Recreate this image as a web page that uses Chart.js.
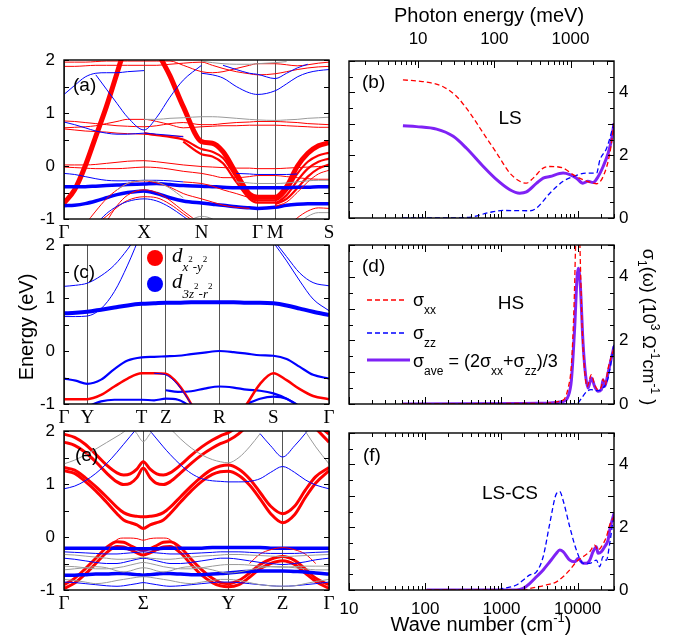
<!DOCTYPE html>
<html>
<head>
<meta charset="utf-8">
<script src="https://cdn.jsdelivr.net/npm/chart.js@4.4.0/dist/chart.umd.min.js"></script>
<style>
  body { margin: 0; background: #fff; }
  #wrap { position: relative; width: 683px; height: 643px; }
  #wrap canvas { position: absolute; left: 0; top: 0; }
</style>
</head>
<body>
<div id="wrap">
  <canvas id="pa" width="683" height="643"></canvas>
  <canvas id="pc" width="683" height="643"></canvas>
  <canvas id="pe" width="683" height="643"></canvas>
  <canvas id="pb" width="683" height="643"></canvas>
  <canvas id="pd" width="683" height="643"></canvas>
  <canvas id="pf" width="683" height="643"></canvas>
</div>
<script>
const n = null;
const _ = k => Array(k).fill(null);

// ---- (a) LS band structure, energies in eV along the k path ----
const kA = [0, 0.04, 0.08, 0.12, 0.16, 0.20, 0.24, 0.302, 0.35, 0.40, 0.45, 0.519, 0.56, 0.60, 0.65, 0.70, 0.730, 0.797, 0.84, 0.88, 0.92, 0.96, 1.0];
const symA = [0, 0.302, 0.519, 0.730, 0.797, 1];
const labA = ['Γ', 'X', 'N', 'Γ', 'M', 'S'];
const aStrongX = [
  [-0.70, -0.45, 0.00, 0.56, 1.12, 1.75, 2.40, ..._(16)],
  [..._(7), 2.90, 2.20, 1.70, 1.12, 0.46, 0.43, 0.27, -0.14, -0.53, -0.59, -0.59, -0.39, -0.01, 0.24, 0.38, 0.44],
];
const aMidX = [
  [..._(7), 0.62, 0.58, 0.55, 0.50, 0.32, 0.27, 0.15, -0.22, -0.58, -0.65, -0.65, -0.47, -0.15, 0.08, 0.20, 0.25],
  [..._(10), 0.46, 0.22, 0.18, 0.05, -0.30, -0.62, -0.69, -0.69, -0.55, -0.28, -0.05, 0.08, 0.14],
  [..._(17), -0.72, -0.62, -0.42, -0.20, -0.05, 0.03],
];
const aWeakX = [
  [1.88, 1.88, 1.89, 1.90, 1.90, 1.90, 1.90, 1.90, 1.90, 1.92, 1.94, 1.96, 1.90, 1.84, 1.78, 1.74, 1.72, 1.74, 1.78, 1.82, 1.85, 1.87, 1.88],
  [1.96, 1.96, 1.96, 1.97, 1.98, 1.98, 1.98, 1.98, 1.98, 1.98, 1.90, 1.78, 1.76, 1.78, 1.84, 1.90, 1.93, 1.93, 1.91, 1.89, 1.91, 1.94, 1.96],
  [0.85, 0.84, 0.82, 0.80, 0.78, 0.76, 0.75, 0.74, 0.76, 0.80, 0.82, 0.78, 0.78, 0.80, 0.82, 0.83, 0.84, 0.84, 0.83, 0.82, 0.80, 0.79, 0.78],
  [0.72, 0.73, 0.74, 0.76, 0.80, 0.84, 0.88, 0.88, 0.84, 0.78, 0.72, 0.74, 0.75, 0.76, 0.76, 0.77, 0.77, 0.77, 0.76, 0.75, 0.74, 0.73, 0.73],
  [0.70, 0.68, 0.66, 0.65, 0.64, 0.62, 0.61, 0.60, 0.58, 0.57, 0.56, ..._(12)],
  [0.02, 0.02, 0.02, 0.03, 0.05, 0.07, 0.09, 0.10, 0.08, 0.05, 0.02, -0.01, -0.02, -0.03, -0.04, -0.04, -0.05, -0.05, -0.04, -0.03, -0.02, -0.01, 0.00],
  [-0.02, -0.03, -0.04, -0.05, -0.05, -0.05, -0.04, -0.02, -0.03, -0.06, -0.10, -0.14, -0.18, -0.22, -0.22, -0.20, -0.18, -0.18, -0.20, -0.22, -0.24, -0.25, -0.25],
  [..._(17), -0.76, -0.68, -0.50, -0.30, -0.15, -0.08],
  [..._(4), -1.05, -0.75, -0.55, -0.45, -0.50, -0.65, -0.85, -1.10, ..._(11)],
  [..._(3), -1.10, -0.95, -0.78, -0.65, -0.58, -0.60, -0.72, -0.90, -1.15, ..._(11)],
  [..._(2), -1.10, -0.85, -0.62, -0.45, -0.33, -0.28, -0.32, -0.40, -0.52, -0.62, -0.68, -0.74, -0.78, -0.80, ..._(7)],
  [..._(10), -0.30, -0.33, -0.38, -0.45, -0.52, -0.60, -0.65, ..._(6)],
  [..._(18), -1.15, -0.98, -0.85, -0.79, -0.80],
];
const aStrongZ = [
  [-0.39, -0.39, -0.39, -0.38, -0.37, -0.36, -0.35, -0.34, -0.33, -0.35, -0.37, -0.38, -0.39, -0.40, -0.41, -0.41, -0.41, -0.41, -0.41, -0.40, -0.40, -0.39, -0.39],
  [-0.75, -0.74, -0.71, -0.66, -0.60, -0.54, -0.50, -0.47, -0.52, -0.60, -0.66, -0.70, -0.72, -0.74, -0.77, -0.79, -0.80, -0.78, -0.74, -0.72, -0.71, -0.71, -0.71],
];
const aWeakZ = [
  [-0.14, -0.16, -0.20, -0.24, -0.27, -0.28, -0.28, -0.27, -0.27, -0.28, -0.30, ..._(12)],
  [1.35, 1.52, 1.68, 1.75, 1.76, 1.76, 1.78, 1.80, ..._(15)],
  [..._(3), 1.72, 1.45, 1.18, 0.92, 0.68, 0.92, 1.30, 1.62, 1.90, ..._(11)],
  [0.83, 0.78, 0.72, 0.66, 0.62, 0.60, 0.60, 0.62, 0.60, 0.58, 0.55, ..._(12)],
  [..._(11), 1.75, 1.72, 1.66, 1.50, 1.38, 1.35, 1.42, 1.55, 1.68, 1.76, 1.80, 1.82],
  [..._(13), 1.90, 1.82, 1.75, 1.73, 1.65, 1.75, 1.85, 1.92, ..._(2)],
  [..._(3), -1.10, -0.90, -0.76, -0.67, -0.62, -0.66, -0.78, -0.95, -1.20, ..._(11)],
  [..._(14), -0.14, -0.15, -0.16, -0.16, -0.16, -0.15, ..._(3)],
];
const aOther = [
  [..._(7), 0.88, 0.88, 0.90, 0.91, 0.93, 0.93, 0.92, 0.90, 0.88, 0.87, 0.86, 0.87, 0.88, 0.90, 0.91, 0.92],
  [..._(5), -0.45, -0.33, -0.27, -0.30, -0.42, -0.60, ..._(12)],
  [..._(14), -0.30, -0.32, -0.33, -0.33, -0.32, -0.30, -0.28, -0.27, -0.27],
  [..._(19), -1.10, -0.95, -0.88, -0.88],
  [..._(10), -1.10, -0.95, -1.00, -1.15, ..._(9)],
  [..._(11), 1.98, 1.95, 1.93, 1.92, 1.92, 1.93, 1.95, 1.97, ..._(4)],
];

// ---- (c) HS band structure ----
const kC = [0, 0.044, 0.088, 0.14, 0.19, 0.24, 0.293, 0.34, 0.384, 0.43, 0.48, 0.53, 0.586, 0.64, 0.69, 0.74, 0.790, 0.84, 0.89, 0.94, 1.0];
const symC = [0, 0.088, 0.293, 0.384, 0.586, 0.790, 1];
const labC = ['Γ', 'Y', 'T', 'Z', 'R', 'S', 'Γ'];
const cStrongZ = [
  [0.71, 0.72, 0.74, 0.78, 0.82, 0.86, 0.89, 0.90, 0.91, 0.91, 0.92, 0.92, 0.92, 0.92, 0.91, 0.91, 0.90, 0.86, 0.80, 0.74, 0.68],
];
const cMidZ = [
  [-0.52, -0.56, -0.62, -0.54, -0.34, -0.18, -0.12, -0.11, -0.10, -0.09, -0.06, -0.03, 0.00, -0.02, -0.05, -0.08, -0.09, -0.15, -0.30, -0.45, -0.52],
  [..._(8), -0.74, -0.77, -0.76, -0.71, -0.67, -0.69, -0.73, -0.75, -0.80, -0.90, -1.05, ..._(2)],
  [..._(2), -1.05, -0.95, -0.92, -0.92, -0.92, -0.93, -0.90, -0.92, -1.05, ..._(3), -1.00, -0.90, -0.86, -0.90, -1.05, ..._(2)],
];
const cMidX = [
  [-0.91, -0.91, -0.91, -0.83, -0.67, -0.52, -0.42, -0.42, -0.43, -0.62, -1.00, -1.50, n, -1.35, -1.00, -0.62, -0.42, -0.55, -0.72, -0.85, -0.91],
];
const cWeakZ = [
  [0.65, 0.65, 0.66, 0.80, 1.12, 1.62, 2.25, ..._(14)],
  [1.22, 1.24, 1.28, 1.42, 1.62, 1.92, 2.30, ..._(14)],
  [..._(16), 2.10, 1.78, 1.47, 1.29, 1.23],
  [..._(16), 2.05, 1.70, 1.32, 0.98, 0.76],
  [..._(7), -0.42, -0.45, -0.64, -1.00, ..._(10)],
];

// ---- (e) LS-CS band structure ----
const kE = [0, 0.04, 0.08, 0.12, 0.16, 0.20, 0.225, 0.25, 0.275, 0.299, 0.325, 0.35, 0.375, 0.40, 0.44, 0.48, 0.52, 0.56, 0.59, 0.620, 0.66, 0.70, 0.74, 0.78, 0.825, 0.87, 0.91, 0.95, 1.0];
const symE = [0, 0.299, 0.620, 0.825, 1];
const labE = ['Γ', 'Σ', 'Y', 'Z', 'Γ'];
const eStrongX = [
  [1.94, 1.88, 1.75, 1.56, 1.36, 1.21, 1.17, 1.19, 1.28, 1.42, 1.28, 1.19, 1.17, 1.21, 1.36, 1.54, 1.70, 1.83, 1.91, 1.97, 2.10, 2.30, ..._(5), 2.15, 1.94],
  [1.79, 1.73, 1.60, 1.42, 1.21, 1.04, 0.99, 1.01, 1.12, 1.30, 1.12, 1.01, 0.99, 1.04, 1.21, 1.39, 1.55, 1.68, 1.76, 1.82, 1.95, 2.15, ..._(5), 2.05, 1.79],
  [1.31, 1.26, 1.12, 0.95, 0.76, 0.56, 0.46, 0.41, 0.39, 0.38, 0.39, 0.41, 0.46, 0.56, 0.76, 0.96, 1.14, 1.28, 1.34, 1.36, 1.28, 1.10, 0.84, 0.58, 0.44, 0.58, 0.88, 1.14, 1.31],
  [1.25, 1.20, 1.05, 0.87, 0.66, 0.44, 0.32, 0.27, 0.23, 0.16, 0.23, 0.27, 0.32, 0.44, 0.66, 0.87, 1.05, 1.18, 1.23, 1.24, 1.16, 0.98, 0.72, 0.44, 0.27, 0.42, 0.74, 1.02, 1.25],
  [-0.90, -0.78, -0.60, -0.40, -0.20, -0.09, -0.10, -0.16, -0.22, -0.25, -0.22, -0.16, -0.10, -0.09, -0.20, -0.42, -0.62, -0.78, -0.86, -0.88, -0.82, -0.68, -0.52, -0.42, -0.37, -0.44, -0.60, -0.78, -0.90],
  [-0.97, -0.87, -0.70, -0.50, -0.30, -0.18, -0.19, -0.24, -0.30, -0.34, -0.30, -0.24, -0.19, -0.18, -0.30, -0.52, -0.72, -0.86, -0.92, -0.94, -0.90, -0.76, -0.60, -0.50, -0.45, -0.52, -0.68, -0.84, -0.97],
];
const eWeakX = [
  [..._(4), -0.30, -0.05, -0.02, -0.02, -0.03, -0.06, -0.03, -0.02, -0.02, -0.05, -0.30, ..._(14)],
  [..._(21), -0.50, -0.32, -0.24, -0.20, -0.24, -0.32, -0.50, ..._(1)],
];
const eStrongZ = [
  [-0.21, -0.21, -0.21, -0.21, -0.21, -0.21, -0.21, -0.22, -0.22, -0.22, -0.22, -0.22, -0.21, -0.21, -0.21, -0.21, -0.21, -0.20, -0.20, -0.20, -0.20, -0.20, -0.20, -0.21, -0.21, -0.21, -0.21, -0.21, -0.21],
  [-0.72, -0.72, -0.71, -0.70, -0.70, -0.69, -0.69, -0.70, -0.71, -0.72, -0.71, -0.70, -0.69, -0.69, -0.70, -0.71, -0.71, -0.70, -0.69, -0.68, -0.66, -0.65, -0.64, -0.64, -0.64, -0.65, -0.66, -0.68, -0.70],
];
const eWeakZ = [
  [-0.28, -0.29, -0.30, -0.31, -0.32, -0.32, -0.31, -0.30, -0.29, -0.28, -0.29, -0.30, -0.31, -0.32, -0.32, -0.31, -0.30, -0.29, -0.28, -0.28, -0.28, -0.29, -0.30, -0.31, -0.31, -0.31, -0.30, -0.29, -0.28],
  [-0.40, -0.42, -0.45, -0.48, -0.50, -0.50, -0.48, -0.45, -0.42, -0.40, -0.42, -0.45, -0.48, -0.50, -0.50, -0.48, -0.45, -0.42, -0.40, -0.40, -0.42, -0.45, -0.48, -0.50, -0.52, -0.50, -0.47, -0.43, -0.40],
  [-0.85, -0.86, -0.88, -0.90, -0.92, -0.93, -0.92, -0.90, -0.88, -0.86, -0.88, -0.90, -0.92, -0.93, -0.92, -0.90, -0.88, -0.86, -0.85, -0.85, -0.86, -0.88, -0.90, -0.92, -0.93, -0.92, -0.90, -0.88, -0.85],
  [0.91, 0.96, 1.06, 1.20, 1.38, 1.60, 1.75, 1.90, 2.05, ..._(20)],
  [..._(10), 2.00, 1.85, 1.70, 1.56, 1.36, 1.20, 1.10, 1.06, 1.05, 1.04, 1.04, 1.05, 1.10, 1.22, 1.33, 1.22, 1.08, 0.98, 0.91],
  [..._(22), 1.95, 1.72, 1.51, 1.72, 1.95, 2.20, ..._(1)],
];
const eOther = [
  [1.38, 1.45, 1.55, 1.66, 1.78, 1.90, 1.98, 2.10, ..._(21)],
  [..._(7), 2.10, 1.95, 1.80, 1.95, 2.10, ..._(17)],
  [..._(13), 2.05, 1.85, 1.68, 1.55, 1.46, 1.42, 1.40, 1.50, 1.70, 1.95, ..._(6)],
  [..._(26), 2.00, 1.70, 1.38],
  [-0.33, -0.34, -0.36, -0.38, -0.40, -0.42, -0.42, -0.41, -0.40, -0.38, -0.40, -0.41, -0.42, -0.42, -0.40, -0.38, -0.36, -0.35, -0.34, -0.33, -0.33, -0.34, -0.35, -0.36, -0.37, -0.36, -0.35, -0.34, -0.33],
  [-0.55, -0.56, -0.58, -0.60, -0.60, -0.58, -0.56, -0.53, -0.50, -0.48, -0.50, -0.53, -0.56, -0.58, -0.60, -0.60, -0.58, -0.55, -0.53, -0.52, -0.52, -0.53, -0.55, -0.56, -0.57, -0.56, -0.55, -0.55, -0.55],
  [-0.80, -0.82, -0.85, -0.88, -0.86, -0.82, -0.80, -0.78, -0.76, -0.75, -0.76, -0.78, -0.80, -0.82, -0.86, -0.88, -0.85, -0.82, -0.80, -0.80, -0.82, -0.86, -0.90, -0.92, -0.93, -0.92, -0.88, -0.84, -0.80],
  [-0.62, -0.60, -0.58, -0.56, -0.58, -0.64, -0.66, -0.64, -0.60, -0.58, -0.60, -0.64, -0.66, -0.64, -0.58, -0.56, -0.58, -0.62, -0.66, -0.68, -0.66, -0.62, -0.58, -0.56, -0.56, -0.58, -0.60, -0.62, -0.62],
];

// ---- optical conductivity, wave number (cm-1) vs sigma1 (10^3 / ohm cm) ----
const wnTicks = [10, 100, 1000, 10000];
const meVTicks = [10, 100, 1000];
const MEV = 8.0655; // cm-1 per meV

const bWnXX = [51, 80, 115, 172, 258, 387, 578, 865, 1290, 1740, 2130, 2610, 3530, 4320, 6450, 8700, 11700, 15900, 17700, 21600, 26500, 30000];
const bXX = [4.40, 4.36, 4.31, 4.18, 3.87, 3.34, 2.70, 2.07, 1.43, 1.17, 1.11, 1.27, 1.59, 1.64, 1.59, 1.38, 1.22, 1.11, 1.09, 1.32, 2.07, 3.02];
const bWnZZ = [51, 200, 400, 705, 1050, 2360, 2900, 4320, 6450, 8700, 13000, 17700, 19600, 24000, 30000];
const bZZ = [0, 0, 0.03, 0.18, 0.24, 0.23, 0.32, 0.79, 1.17, 1.32, 1.43, 1.43, 1.85, 2.22, 3.02];
const bWnAve = [51, 77, 141, 233, 348, 578, 865, 1290, 1740, 2130, 2900, 3530, 4320, 6450, 7900, 9650, 11700, 13640, 15900, 18600, 21600, 25200, 27800, 30000];
const bAve = [2.94, 2.91, 2.83, 2.60, 2.22, 1.64, 1.22, 0.90, 0.79, 0.83, 1.11, 1.27, 1.32, 1.43, 1.38, 1.27, 1.11, 1.17, 1.13, 1.32, 1.64, 2.07, 2.49, 3.02];

const dWnXX = [50, 3000, 6440, 7500, 8290, 9000, 9500, 9830, 10240, 10600, 10870, 11500, 12300, 13300, 15140, 16750, 18520, 20480, 21540, 23000, 25000, 30000];
const dXX = [0, 0.02, 0.12, 0.50, 1.25, 3.2, 5.4, 6.3, 6.3, 5.4, 4.4, 2.3, 1.1, 0.55, 0.92, 0.60, 0.45, 0.55, 0.78, 0.60, 1.10, 1.76];
const dWnZZ = [50, 9000, 9830, 11000, 13000, 15000, 18000, 21000, 25000, 30000];
const dZZ = [0, 0, 0.01, 0.15, 0.38, 0.45, 0.42, 0.48, 0.80, 1.90];
const dWnAve = [50, 3000, 6440, 7500, 8290, 9160, 9830, 10240, 10870, 11780, 12770, 13700, 15140, 16750, 18520, 20480, 21540, 22650, 25050, 27700, 30000];
const dAve = [0, 0.02, 0.08, 0.24, 0.76, 2.44, 4.00, 4.27, 3.69, 1.91, 0.87, 0.50, 0.82, 0.55, 0.40, 0.45, 0.76, 0.55, 0.97, 1.44, 1.81];

const fWnXX = [104, 2000, 2360, 3900, 5270, 6440, 7880, 9640, 11790, 14410, 16750, 18520, 20480, 23820, 26350, 30000];
const fXX = [0, 0, 0.05, 0.16, 0.26, 0.42, 0.64, 0.90, 1.06, 1.22, 1.43, 1.27, 1.38, 1.69, 2.07, 2.33];
const fWnZZ = [104, 861, 1050, 1575, 2360, 2880, 3530, 4310, 5270, 5820, 6440, 7880, 9640, 11790, 14410, 17610, 19480, 21540, 23820, 26350, 30000];
const fZZ = [0, 0, 0.05, 0.16, 0.48, 0.58, 1.06, 2.12, 3.07, 3.13, 2.86, 2.01, 1.27, 0.85, 0.85, 0.95, 0.74, 1.06, 0.95, 1.48, 2.44];
const fWnAve = [104, 1575, 1930, 2360, 2880, 3530, 4310, 5270, 5820, 6440, 7880, 9170, 10140, 11790, 13020, 14410, 15930, 17610, 18520, 20480, 22650, 25050, 26350, 30000];
const fAve = [0, 0, 0.05, 0.21, 0.42, 0.64, 0.90, 1.17, 1.27, 1.22, 0.95, 0.90, 1.00, 0.85, 0.85, 0.95, 1.22, 1.38, 1.17, 1.22, 1.38, 1.59, 1.91, 2.44];

// ---- drawing ----
const W = 683, H = 643;
const SANS = "'Liberation Sans', Arial, sans-serif";
const SERIF = "'Liberation Serif', 'Times New Roman', serif";
const RED = '#ff0000', BLUE = '#0000ff', GRAY = '#9a9a9a', PURPLE = '#7f22f5';
Chart.defaults.font.family = SANS;
Chart.defaults.color = '#000';

function drawRich(ctx, parts, fam, align, y0) {
  const segs = parts.map(([t, size, dy = 0, it = false]) => {
    const font = `${it ? 'italic ' : ''}${size}px ${fam}`;
    ctx.font = font;
    return { t, font, dy, w: ctx.measureText(t).width };
  });
  const total = segs.reduce((s, p) => s + p.w, 0);
  let x = align === 'center' ? -total / 2 : align === 'right' ? -total : 0;
  ctx.textAlign = 'left';
  ctx.textBaseline = 'alphabetic';
  segs.forEach(p => {
    ctx.font = p.font;
    ctx.fillText(p.t, x, y0 + p.dy);
    x += p.w;
  });
}

function logTicks(ctx, s, y, dir) {
  const lo = Math.floor(Math.log10(s.min)), hi = Math.ceil(Math.log10(s.max));
  for (let d = lo; d <= hi; d++) {
    for (let m = 1; m < 10; m++) {
      const v = m * Math.pow(10, d);
      if (v < s.min * 0.999 || v > s.max * 1.001) continue;
      const p = Math.round(s.getPixelForValue(v)) + 0.5;
      ctx.moveTo(p, y);
      ctx.lineTo(p, y + dir * (m === 1 ? 7 : 4));
    }
  }
}

const framePlugin = spec => ({
  id: 'frame',
  afterDatasetsDraw(chart) {
    const { ctx, chartArea: a, scales } = chart;
    ctx.save();
    ctx.strokeStyle = '#000';
    ctx.lineWidth = 1;
    ctx.beginPath();
    const ys = scales.y;
    for (let v = ys.min; v <= ys.max + 1e-6; v += 0.5) {
      const p = Math.round(ys.getPixelForValue(v)) + 0.5;
      const len = Math.abs(v - Math.round(v)) < 1e-6 ? spec.major : spec.minor;
      ctx.moveTo(a.left, p); ctx.lineTo(a.left + len, p);
      ctx.moveTo(a.right, p); ctx.lineTo(a.right - len, p);
    }
    if (spec.log) {
      logTicks(ctx, scales.x, a.bottom, -1);
      logTicks(ctx, scales[spec.top], a.top, 1);
    }
    ctx.stroke();
    ctx.lineWidth = 1.4;
    ctx.strokeRect(a.left, a.top, a.right - a.left, a.bottom - a.top);
    ctx.restore();
  }
});

const notesPlugin = spec => ({
  id: 'notes',
  afterDraw(chart) {
    const ctx = chart.ctx;
    ctx.save();
    (spec.keys || []).forEach(k => {
      ctx.beginPath();
      ctx.strokeStyle = k.color;
      ctx.lineWidth = k.width;
      ctx.setLineDash(k.dash || []);
      ctx.moveTo(k.x1, k.y);
      ctx.lineTo(k.x2, k.y);
      ctx.stroke();
    });
    ctx.setLineDash([]);
    (spec.dots || []).forEach(d => {
      ctx.beginPath();
      ctx.fillStyle = d.color;
      ctx.arc(d.x, d.y, d.r, 0, Math.PI * 2);
      ctx.fill();
    });
    (spec.texts || []).forEach(t => {
      ctx.save();
      ctx.translate(t.x, t.y);
      if (t.rot) ctx.rotate(t.rot);
      ctx.fillStyle = '#000';
      drawRich(ctx, t.parts, t.fam || SANS, t.align || 'left', t.base ? 0 : Math.round(t.parts[0][1] * 0.36));
      ctx.restore();
    });
    ctx.restore();
  }
});

function bandChart(id, box, grid, sym, labs, layers, notes) {
  const datasets = layers.flatMap(([bands, color, width]) => bands.map(vals => ({
    data: vals.map((y, i) => ({ x: grid[i], y })),
    borderColor: color,
    borderWidth: width,
    pointRadius: 0,
    cubicInterpolationMode: 'monotone',
    clip: 0,
  })));
  return new Chart(document.getElementById(id), {
    type: 'line',
    data: { datasets },
    options: {
      responsive: false,
      animation: false,
      events: [],
      layout: { padding: { left: box.l - 40, top: box.t, right: W - box.r, bottom: H - box.b - 30 } },
      plugins: { legend: { display: false }, tooltip: { enabled: false } },
      scales: {
        x: {
          type: 'linear', min: 0, max: 1,
          afterFit: s => { s.height = 30; },
          afterBuildTicks: s => { s.ticks = sym.map(value => ({ value })); },
          ticks: { autoSkip: false, maxRotation: 0, padding: 3, font: { family: SERIF, size: 19 }, callback: (v, i) => labs[i] },
          grid: { color: '#555', lineWidth: 1, drawTicks: false },
          border: { display: false },
        },
        y: {
          min: -1, max: 2,
          afterFit: s => { s.width = 40; },
          ticks: { autoSkip: false, stepSize: 0.5, padding: 9, font: { size: 17 }, callback: v => (Number.isInteger(v) ? v : '') },
          grid: { display: false, drawTicks: false },
          border: { display: false },
        },
      },
    },
    plugins: [framePlugin({ major: 5, minor: 5 }), notesPlugin(notes)],
  });
}

const curve = (wn, vals, color, width, dash) => ({
  data: wn.map((x, i) => ({ x, y: vals[i] })),
  xAxisID: 'x',
  yAxisID: 'y',
  borderColor: color,
  borderWidth: width,
  borderDash: dash || [],
  pointRadius: 0,
  cubicInterpolationMode: 'monotone',
  clip: 0,
});

function condChart(id, box, datasets, opt, notes) {
  const tickFont = { size: 17 };
  const xH = opt.bottom ? 53 : 0;
  const scales = {
    x: {
      type: 'logarithmic', min: 10, max: 30000, display: !!opt.bottom,
      afterFit: s => { s.height = xH; },
      afterBuildTicks: s => { s.ticks = wnTicks.map(value => ({ value })); },
      ticks: { autoSkip: false, maxRotation: 0, padding: 9, font: tickFont, callback: v => String(v) },
      grid: { display: false, drawTicks: false },
      border: { display: false },
    },
    y: {
      position: 'right', min: 0, max: 5,
      afterFit: s => { s.width = 40; },
      ticks: { autoSkip: false, stepSize: 0.5, padding: 5, font: tickFont, callback: v => (v % 2 === 0 ? v : '') },
      grid: { display: false, drawTicks: false },
      border: { display: false },
    },
  };
  if (opt.top) {
    scales.xt = {
      type: 'logarithmic', position: 'top', min: 10 / MEV, max: 30000 / MEV,
      afterFit: s => { s.height = box.t; },
      afterBuildTicks: s => { s.ticks = meVTicks.map(value => ({ value })); },
      ticks: { autoSkip: false, maxRotation: 0, padding: 11, font: tickFont, callback: v => String(v) },
      grid: { display: false, drawTicks: false },
      border: { display: false },
    };
  }
  return new Chart(document.getElementById(id), {
    type: 'line',
    data: { datasets },
    options: {
      responsive: false,
      animation: false,
      events: [],
      layout: {
        padding: {
          left: box.l,
          top: opt.top ? 0 : box.t,
          right: W - box.r - 40,
          bottom: H - box.b - xH,
        },
      },
      plugins: { legend: { display: false }, tooltip: { enabled: false } },
      scales,
    },
    plugins: [framePlugin({ major: 6, minor: 4, log: true, top: opt.top ? 'xt' : 'x' }), notesPlugin(notes)],
  });
}

const panelTag = (x, y, t) => ({ x, y, parts: [[t, 19]] });

bandChart('pa', { l: 64, t: 60, r: 329, b: 219 }, kA, symA, labA,
  [[aOther, GRAY, 1], [aWeakZ, BLUE, 1], [aWeakX, RED, 1], [aStrongZ, BLUE, 3.5], [aMidX, RED, 2.2], [aStrongX, RED, 5]],
  { texts: [panelTag(73, 84, '(a)')] });

bandChart('pc', { l: 64, t: 245, r: 329, b: 404 }, kC, symC, labC,
  [[cWeakZ, BLUE, 1], [cMidX, RED, 2.5], [cMidZ, BLUE, 2.2], [cStrongZ, BLUE, 4]],
  {
    dots: [{ x: 155, y: 258, r: 8, color: RED }, { x: 155, y: 284, r: 8, color: BLUE }],
    texts: [
      panelTag(73, 271, '(c)'),
      { x: 172, y: 262, base: true, fam: SERIF, parts: [['d', 21, 0, true], ['x', 13, 9, true], ['2', 9, 0], ['-y', 13, 9, true], ['2', 9, 0]] },
      { x: 172, y: 288, base: true, fam: SERIF, parts: [['d', 21, 0, true], ['3z', 13, 10, true], ['2', 9, 1], ['-r', 13, 10, true], ['2', 9, 1]] },
      { x: 26, y: 327, rot: -Math.PI / 2, align: 'center', parts: [['Energy (eV)', 20]] },
    ],
  });

bandChart('pe', { l: 64, t: 431, r: 329, b: 590 }, kE, symE, labE,
  [[eOther, GRAY, 1], [eWeakZ, BLUE, 1], [eWeakX, RED, 1], [eStrongZ, BLUE, 3.5], [eStrongX, RED, 3]],
  { texts: [panelTag(75, 454, '(e)')] });

condChart('pb', { l: 349, t: 61, r: 614, b: 218 },
  [curve(bWnXX, bXX, RED, 1.3, [5, 3]), curve(bWnZZ, bZZ, BLUE, 1.3, [5, 3]), curve(bWnAve, bAve, PURPLE, 3)],
  { top: true },
  {
    texts: [
      panelTag(362, 81, '(b)'),
      { x: 510, y: 117, align: 'center', parts: [['LS', 19]] },
      { x: 489, y: 15, align: 'center', parts: [['Photon energy (meV)', 20]] },
    ],
  });

condChart('pd', { l: 349, t: 245, r: 614, b: 404 },
  [curve(dWnXX, dXX, RED, 1.3, [5, 3]), curve(dWnZZ, dZZ, BLUE, 1.3, [5, 3]), curve(dWnAve, dAve, PURPLE, 3)],
  {},
  {
    keys: [
      { x1: 367, x2: 407, y: 300, color: RED, width: 1.3, dash: [5, 3] },
      { x1: 367, x2: 407, y: 333, color: BLUE, width: 1.3, dash: [5, 3] },
      { x1: 367, x2: 410, y: 360, color: PURPLE, width: 3 },
    ],
    texts: [
      panelTag(362, 265, '(d)'),
      { x: 511, y: 302, align: 'center', parts: [['HS', 19]] },
      { x: 413, y: 306, base: true, parts: [['σ', 18], ['xx', 12, 8]] },
      { x: 413, y: 339, base: true, parts: [['σ', 18], ['zz', 12, 8]] },
      { x: 413, y: 367, base: true, parts: [['σ', 18], ['ave', 12, 8], [' = (2σ', 18], ['xx', 12, 8], ['+σ', 18], ['zz', 12, 8], [')/3', 18]] },
      { x: 649, y: 327, rot: Math.PI / 2, align: 'center', parts: [['σ', 18], ['1', 12, 5], ['(ω) (10', 18], ['3', 12, -8], [' Ω', 18], ['-1', 12, -8], ['cm', 18], ['-1', 12, -8], [' )', 18]] },
    ],
  });

condChart('pf', { l: 349, t: 433, r: 614, b: 590 },
  [curve(fWnXX, fXX, RED, 1.3, [5, 3]), curve(fWnZZ, fZZ, BLUE, 1.3, [5, 3]), curve(fWnAve, fAve, PURPLE, 3)],
  { bottom: true },
  {
    texts: [
      panelTag(363, 454, '(f)'),
      { x: 510, y: 492, align: 'center', parts: [['LS-CS', 19]] },
      { x: 481, y: 624, align: 'center', parts: [['Wave number (cm', 20], ['-1', 13, -9], [')', 20]] },
    ],
  });
</script>
</body>
</html>
